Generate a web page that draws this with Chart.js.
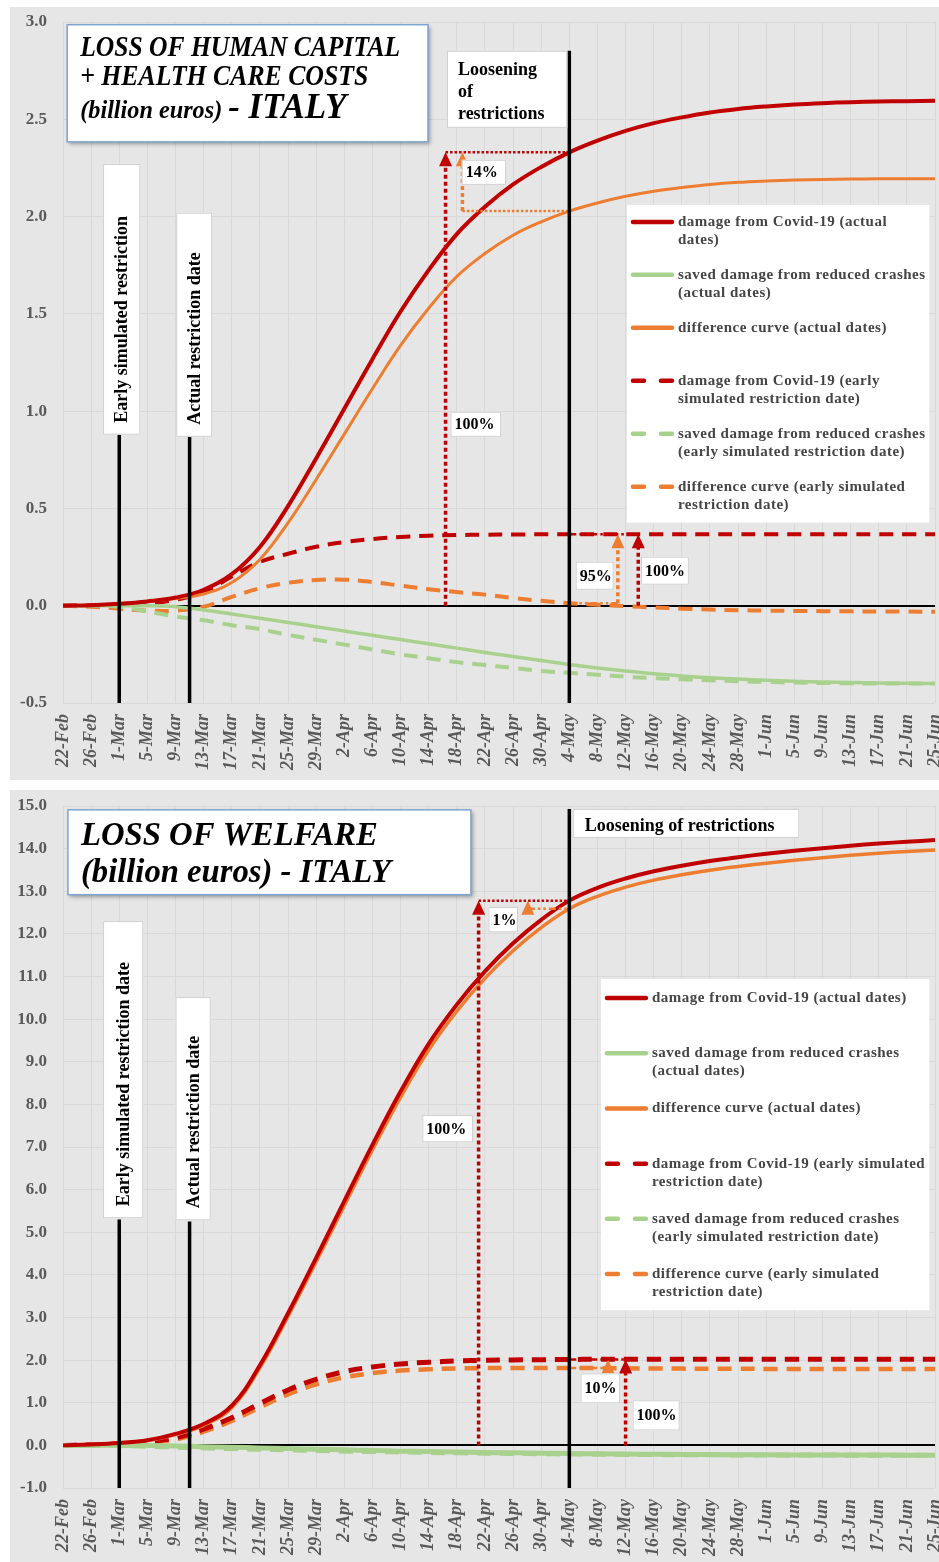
<!DOCTYPE html>
<html>
<head>
<meta charset="utf-8">
<script src="https://cdn.jsdelivr.net/npm/chart.js@4.4.0/dist/chart.umd.min.js"></script>
<style>
  body { margin: 0; background: #fff; width: 939px; height: 1562px; position: relative; overflow: hidden; }
  canvas { position: absolute; }
</style>
</head>
<body>
<canvas id="hc" width="929" height="773" style="left:10px;top:7px"></canvas>
<canvas id="wf" width="929" height="772" style="left:10px;top:790px"></canvas>
<script>
// x axis: one category every 4 days (2020)
const dates = ['22-Feb','26-Feb','1-Mar','5-Mar','9-Mar','13-Mar','17-Mar','21-Mar','25-Mar','29-Mar',
  '2-Apr','6-Apr','10-Apr','14-Apr','18-Apr','22-Apr','26-Apr','30-Apr','4-May','8-May','12-May',
  '16-May','20-May','24-May','28-May','1-Jun','5-Jun','9-Jun','13-Jun','17-Jun','21-Jun','25-Jun'];
const stepDays = 4;
const earlyDay = 8;       // 1-Mar
const actualDay = 18;     // 11-Mar
const looseningDay = 72;  // 4-May
const iLoose = looseningDay / stepDays;

const seriesNames = [
  'damage from Covid-19 (actual dates)',
  'saved damage from reduced crashes (actual dates)',
  'difference curve (actual dates)',
  'damage from Covid-19 (early simulated restriction date)',
  'saved damage from reduced crashes (early simulated restriction date)',
  'difference curve (early simulated restriction date)'
];

// top chart: loss of human capital + health care costs (billion euros)
const hcTicks = { min: -0.5, max: 3.0, step: 0.5 };
const hcRedActual = [0, 0.003, 0.01, 0.022, 0.042, 0.082, 0.162, 0.302, 0.512, 0.757,
  1.012, 1.267, 1.512, 1.725, 1.91, 2.05, 2.165, 2.255, 2.33, 2.39,
  2.44, 2.48, 2.51, 2.535, 2.553, 2.566, 2.576, 2.583, 2.588, 2.591, 2.593, 2.595];
const hcGreenActual = [0, 0, 0, 0, -0.005, -0.022, -0.043, -0.064, -0.086, -0.108,
  -0.13, -0.152, -0.174, -0.196, -0.218, -0.24, -0.261, -0.282, -0.302, -0.32,
  -0.336, -0.35, -0.361, -0.37, -0.377, -0.383, -0.388, -0.392, -0.395, -0.397, -0.399, -0.4];
const hcOrangeActual = [0, 0.003, 0.01, 0.022, 0.037, 0.06, 0.119, 0.238, 0.426, 0.649,
  0.882, 1.115, 1.338, 1.529, 1.692, 1.81, 1.904, 1.973, 2.028, 2.07,
  2.104, 2.13, 2.149, 2.165, 2.176, 2.183, 2.188, 2.191, 2.193, 2.194, 2.194, 2.195];
const hcRedEarly = [0, 0.002, 0.006, 0.012, 0.03, 0.07, 0.15, 0.225, 0.267, 0.303,
  0.327, 0.343, 0.353, 0.36, 0.363, 0.365, 0.366, 0.367, 0.367, 0.367,
  0.367, 0.367, 0.367, 0.367, 0.367, 0.367, 0.367, 0.367, 0.367, 0.367, 0.367, 0.367];
const hcGreenEarly = [0, 0, -0.005, -0.03, -0.055, -0.075, -0.1, -0.12, -0.15, -0.175,
  -0.2, -0.225, -0.25, -0.27, -0.29, -0.305, -0.32, -0.335, -0.345, -0.355,
  -0.365, -0.372, -0.378, -0.383, -0.388, -0.392, -0.395, -0.397, -0.399, -0.4, -0.4, -0.4];
const hcOrangeEarly = [0, -0.005, -0.015, -0.025, -0.025, -0.005, 0.045, 0.09, 0.118, 0.132,
  0.134, 0.122, 0.103, 0.085, 0.07, 0.057, 0.04, 0.025, 0.013, 0.005,
  -0.002, -0.009, -0.015, -0.02, -0.023, -0.025, -0.027, -0.028, -0.029, -0.03, -0.03, -0.031];

// bottom chart: loss of welfare (billion euros)
const wfTicks = { min: -1, max: 15, step: 1 };
const wfRedActual = [0, 0.02, 0.055, 0.12, 0.27, 0.5, 0.93, 1.88, 3.1, 4.4,
  5.73, 7.05, 8.3, 9.42, 10.34, 11.12, 11.78, 12.33, 12.78, 13.08,
  13.3, 13.47, 13.6, 13.71, 13.8, 13.88, 13.95, 14.01, 14.07, 14.12, 14.16, 14.2];
const wfGreenActual = [0, 0, 0, -0.005, -0.015, -0.03, -0.045, -0.06, -0.075, -0.09,
  -0.105, -0.12, -0.135, -0.145, -0.155, -0.165, -0.175, -0.183, -0.19, -0.198,
  -0.204, -0.209, -0.213, -0.217, -0.22, -0.222, -0.224, -0.226, -0.227, -0.228, -0.229, -0.23];
const wfOrangeActual = [0, 0.02, 0.055, 0.115, 0.255, 0.47, 0.885, 1.82, 3.025, 4.31,
  5.625, 6.93, 8.165, 9.275, 10.185, 10.955, 11.605, 12.147, 12.59, 12.882,
  13.096, 13.261, 13.387, 13.493, 13.58, 13.658, 13.726, 13.784, 13.843, 13.892, 13.931, 13.97];
const wfRedEarly = [0, 0.01, 0.035, 0.08, 0.18, 0.38, 0.65, 0.98, 1.3, 1.55,
  1.73, 1.84, 1.91, 1.95, 1.98, 1.995, 2.005, 2.01, 2.015, 2.02,
  2.02, 2.02, 2.02, 2.02, 2.02, 2.02, 2.02, 2.02, 2.02, 2.02, 2.02, 2.02];
const wfGreenEarly = [0, 0, -0.005, -0.02, -0.04, -0.06, -0.075, -0.09, -0.105, -0.12,
  -0.135, -0.145, -0.155, -0.165, -0.175, -0.182, -0.19, -0.196, -0.202, -0.208,
  -0.212, -0.216, -0.219, -0.222, -0.224, -0.226, -0.227, -0.228, -0.229, -0.23, -0.23, -0.23];
const wfOrangeEarly = [0, 0.01, 0.03, 0.06, 0.14, 0.32, 0.575, 0.89, 1.195, 1.43,
  1.595, 1.695, 1.755, 1.785, 1.805, 1.813, 1.815, 1.814, 1.813, 1.812,
  1.808, 1.804, 1.801, 1.798, 1.796, 1.794, 1.793, 1.792, 1.791, 1.79, 1.79, 1.79];

const RED = '#c00000', GREEN = '#a9d18e', ORANGE = '#ed7d31';
const serif = '"Liberation Serif", "Times New Roman", serif';

function makeDatasets(series, widths) {
  const colors = [RED, GREEN, ORANGE];
  return series.map((vals, i) => ({
    label: seriesNames[i],
    data: vals,
    borderColor: colors[i % 3],
    borderWidth: widths[i],
    borderDash: i >= 3 ? [14, 9] : [],
    pointRadius: 0,
    fill: false,
    tension: 0.4
  }));
}

function whiteBox(c, x0, y0, x1, y1, stroke) {
  c.fillStyle = '#fff';
  c.fillRect(x0, y0, x1 - x0, y1 - y0);
  c.strokeStyle = stroke || '#d0d0d0';
  c.lineWidth = 1;
  c.setLineDash([]);
  c.strokeRect(x0 + 0.5, y0 + 0.5, x1 - x0 - 1, y1 - y0 - 1);
}

function arrowUp(c, x, yFrom, yTo, color) {
  c.strokeStyle = color; c.fillStyle = color;
  c.lineWidth = 3.5; c.setLineDash([4, 3]);
  c.beginPath(); c.moveTo(x, yFrom); c.lineTo(x, yTo + 12); c.stroke();
  c.setLineDash([]);
  c.beginPath(); c.moveTo(x, yTo); c.lineTo(x - 6.5, yTo + 14); c.lineTo(x + 6.5, yTo + 14); c.closePath(); c.fill();
}

function hLink(c, x0, x1, y, color, dash) {
  c.strokeStyle = color; c.lineWidth = 2.5; c.setLineDash(dash);
  c.beginPath(); c.moveTo(x0, y); c.lineTo(x1, y); c.stroke();
}

const overlay = {
  id: 'overlay',
  beforeDraw(chart) {
    const c = chart.ctx;
    c.save(); c.fillStyle = '#e7e6e6'; c.fillRect(0, 0, chart.width, chart.height); c.restore();
  },
  afterDatasetsDraw(chart, args, n) {
    const c = chart.ctx, area = chart.chartArea;
    const X = d => chart.scales.x.getPixelForValue(d / stepDays);
    const Y = v => chart.scales.y.getPixelForValue(v);
    c.save();

    // dotted arrows and connectors
    n.arrows.forEach(a => arrowUp(c, X(a.day), Y(a.from), Y(a.to), a.color));
    n.links.forEach(l => hLink(c, X(l.day0), X(l.day1), Y(l.v), l.color, l.dash));

    // vertical event lines
    c.strokeStyle = '#000'; c.lineWidth = 3.5; c.setLineDash([]);
    n.events.forEach(e => {
      c.beginPath(); c.moveTo(X(e.day), Y(e.top)); c.lineTo(X(e.day), area.bottom); c.stroke();
    });

    // rotated event labels
    n.vlabels.forEach(b => {
      const x0 = X(b.d0), x1 = X(b.d1), y0 = Y(b.v0), y1 = Y(b.v1);
      whiteBox(c, x0, y0, x1, y1);
      c.save();
      c.translate((x0 + x1) / 2 + 1, y1 - 12);
      c.rotate(-Math.PI / 2);
      c.fillStyle = '#000'; c.font = 'bold 18px ' + serif;
      c.textAlign = 'left'; c.textBaseline = 'middle';
      c.fillText(b.text, 0, 0);
      c.restore();
    });

    // loosening label
    const L = n.loosen;
    whiteBox(c, X(L.d0), Y(L.v0), X(L.d1), Y(L.v1));
    c.fillStyle = '#000'; c.font = 'bold 18px ' + serif; c.textAlign = 'left'; c.textBaseline = 'alphabetic';
    L.lines.forEach((t, i) => c.fillText(t, X(L.d0) + L.dx, Y(L.v0) + L.dy + i * 22));

    // percent labels
    n.pct.forEach(p => {
      const x0 = X(p.d0), x1 = X(p.d1), y0 = Y(p.v0), y1 = Y(p.v1);
      whiteBox(c, x0, y0, x1, y1);
      c.fillStyle = '#000'; c.font = 'bold 16px ' + serif; c.textAlign = 'left'; c.textBaseline = 'middle';
      c.fillText(p.text, x0 + 4, (y0 + y1) / 2 + 1);
    });

    // title box
    const T = n.title;
    const tx0 = X(T.d0), ty0 = Y(T.v0), tx1 = X(T.d1), ty1 = Y(T.v1);
    c.save();
    c.shadowColor = 'rgba(0,0,0,0.35)'; c.shadowBlur = 4; c.shadowOffsetX = 2; c.shadowOffsetY = 2;
    c.fillStyle = '#fff'; c.fillRect(tx0, ty0, tx1 - tx0, ty1 - ty0);
    c.restore();
    c.strokeStyle = '#7ea6d3'; c.lineWidth = 1.5; c.setLineDash([]);
    c.strokeRect(tx0, ty0, tx1 - tx0, ty1 - ty0);
    c.fillStyle = '#000'; c.textAlign = 'left'; c.textBaseline = 'alphabetic';
    T.lines.forEach(line => {
      let x = tx0 + T.dx;
      line.segs.forEach(([text, size, w]) => {
        c.font = 'italic bold ' + size + 'px ' + serif;
        c.fillText(text, x, ty0 + line.dy, w);
        x += Math.min(w, c.measureText(text).width) + 6;
      });
    });

    // legend
    const G = n.legend;
    const gx0 = X(G.d0), gy0 = Y(G.v0), gx1 = X(G.d1), gy1 = Y(G.v1);
    c.fillStyle = '#fff'; c.fillRect(gx0, gy0, gx1 - gx0, gy1 - gy0);
    const rowH = (gy1 - gy0) / 6;
    c.font = 'bold 15px ' + serif; c.textBaseline = 'middle';
    c.letterSpacing = '0.5px';
    chart.data.datasets.forEach((ds, i) => {
      const y = gy0 + G.first + i * rowH;
      c.strokeStyle = ds.borderColor; c.lineWidth = 4.5; c.lineCap = 'round';
      c.beginPath();
      if (i >= 3) {
        c.moveTo(gx0 + 6, y); c.lineTo(gx0 + 17, y);
        c.moveTo(gx0 + 34, y); c.lineTo(gx0 + 45, y);
      } else {
        c.moveTo(gx0 + 6, y); c.lineTo(gx0 + 45, y);
      }
      c.stroke();
      c.fillStyle = '#454545';
      G.lines[i].forEach((t, k) => c.fillText(t, gx0 + 51, y + k * 18));
    });
    c.letterSpacing = '0px';
    c.restore();
  }
};

function makeChart(id, series, widths, ticks, xHeight, topPad, notes) {
  return new Chart(document.getElementById(id), {
    type: 'line',
    data: { labels: dates, datasets: makeDatasets(series, widths) },
    plugins: [overlay],
    options: {
      responsive: false,
      animation: false,
      devicePixelRatio: 1,
      layout: { padding: { top: topPad, right: 4, left: 0, bottom: 0 } },
      plugins: { legend: { display: false }, tooltip: { enabled: false }, overlay: notes },
      scales: {
        x: {
          type: 'category',
          offset: false,
          border: { display: false },
          grid: { color: '#d9d9d9', lineWidth: 1, drawTicks: false },
          ticks: {
            autoSkip: false, minRotation: 90, maxRotation: 90, padding: 11,
            color: '#595959',
            font: { family: serif, size: 18, weight: 'bold', style: 'italic' }
          },
          afterFit(s) { s.height = xHeight; s.paddingLeft = 0; s.paddingRight = 0; }
        },
        y: {
          min: ticks.min, max: ticks.max,
          border: { display: false },
          grid: {
            drawTicks: false,
            color: ctx => Math.abs(ctx.tick.value) < 1e-9 ? '#000' : '#d9d9d9',
            lineWidth: ctx => Math.abs(ctx.tick.value) < 1e-9 ? 2 : 1
          },
          ticks: {
            stepSize: ticks.step, padding: 16, color: '#595959',
            font: { family: serif, size: 17, weight: 'bold' },
            callback: v => Number(v).toFixed(1)
          },
          afterFit(s) { s.width = 53; s.paddingTop = 0; s.paddingBottom = 0; }
        }
      }
    }
  });
}

const hcNotes = {
  events: [{ day: earlyDay, top: 0.88 }, { day: actualDay, top: 0.87 }, { day: looseningDay, top: 2.852 }],
  vlabels: [
    { d0: 5.7, d1: 11.0, v0: 2.27, v1: 0.879, text: 'Early simulated restriction' },
    { d0: 16.1, d1: 21.2, v0: 2.02, v1: 0.868, text: 'Actual restriction date' }
  ],
  loosen: { d0: 54.6, d1: 71.7, v0: 2.852, v1: 2.456, dx: 11, dy: 24, lines: ['Loosening', 'of', 'restrictions'] },
  arrows: [
    { day: 54.4, from: 0, to: hcRedActual[iLoose], color: RED },
    { day: 56.8, from: hcOrangeActual[iLoose], to: hcRedActual[iLoose], color: ORANGE },
    { day: 78.9, from: hcOrangeEarly[iLoose], to: hcRedEarly[iLoose], color: ORANGE },
    { day: 81.8, from: 0, to: hcRedEarly[iLoose], color: RED }
  ],
  links: [
    { day0: 54.4, day1: looseningDay, v: hcRedActual[iLoose], color: RED, dash: [2.5, 2] },
    { day0: 56.8, day1: looseningDay, v: hcOrangeActual[iLoose], color: ORANGE, dash: [2.5, 2] },
    { day0: looseningDay, day1: 81.8, v: hcRedEarly[iLoose], color: RED, dash: [7, 3, 2.5, 3, 2.5, 3] },
    { day0: looseningDay, day1: 78.9, v: hcOrangeEarly[iLoose], color: ORANGE, dash: [7, 3, 2.5, 3, 2.5, 3] }
  ],
  pct: [
    { d0: 56.7, d1: 63.0, v0: 2.292, v1: 2.163, text: '14%' },
    { d0: 55.1, d1: 62.3, v0: 0.997, v1: 0.868, text: '100%' },
    { d0: 72.9, d1: 78.3, v0: 0.226, v1: 0.082, text: '95%' },
    { d0: 82.2, d1: 89.0, v0: 0.252, v1: 0.108, text: '100%' }
  ],
  title: {
    d0: 0.6, d1: 51.9, v0: 2.986, v1: 2.384, dx: 13,
    lines: [
      { dy: 31, segs: [['LOSS OF HUMAN CAPITAL', 29, 320]] },
      { dy: 60, segs: [['+ HEALTH CARE COSTS', 29, 288]] },
      { dy: 93, segs: [['(billion euros)', 25, 142], ['- ITALY', 35, 118]] }
    ]
  },
  legend: {
    d0: 80.2, d1: 123.2, v0: 2.06, v1: 0.427, first: 17,
    lines: [
      ['damage from Covid-19 (actual', 'dates)'],
      ['saved damage from reduced crashes', '(actual dates)'],
      ['difference curve (actual dates)'],
      ['damage from Covid-19 (early', 'simulated restriction date)'],
      ['saved damage from reduced crashes', '(early simulated restriction date)'],
      ['difference curve (early simulated', 'restriction date)']
    ]
  }
};

const wfNotes = {
  events: [{ day: earlyDay, top: 5.3 }, { day: actualDay, top: 5.25 }, { day: looseningDay, top: 14.93 }],
  vlabels: [
    { d0: 5.7, d1: 11.4, v0: 12.3, v1: 5.33, text: 'Early simulated restriction date' },
    { d0: 16.0, d1: 21.0, v0: 10.52, v1: 5.28, text: 'Actual restriction date' }
  ],
  loosen: { d0: 72.5, d1: 104.7, v0: 14.93, v1: 14.25, dx: 12, dy: 22, lines: ['Loosening of restrictions'] },
  arrows: [
    { day: 59.1, from: 0, to: wfRedActual[iLoose], color: RED },
    { day: 66.1, from: wfOrangeActual[iLoose], to: wfRedActual[iLoose], color: ORANGE },
    { day: 77.5, from: wfOrangeEarly[iLoose], to: wfRedEarly[iLoose], color: ORANGE },
    { day: 80.0, from: 0, to: wfRedEarly[iLoose], color: RED }
  ],
  links: [
    { day0: 59.1, day1: looseningDay, v: wfRedActual[iLoose], color: RED, dash: [2.5, 2] },
    { day0: 66.1, day1: looseningDay, v: wfOrangeActual[iLoose], color: ORANGE, dash: [7, 3, 2.5, 3, 2.5, 3] },
    { day0: looseningDay, day1: 80.0, v: wfRedEarly[iLoose], color: RED, dash: [7, 3, 2.5, 3, 2.5, 3] },
    { day0: looseningDay, day1: 77.5, v: wfOrangeEarly[iLoose], color: ORANGE, dash: [7, 3, 2.5, 3, 2.5, 3] }
  ],
  pct: [
    { d0: 60.5, d1: 64.7, v0: 12.63, v1: 12.04, text: '1%' },
    { d0: 51.1, d1: 58.3, v0: 7.75, v1: 7.11, text: '100%' },
    { d0: 73.6, d1: 79.2, v0: 1.69, v1: 0.99, text: '10%' },
    { d0: 81.0, d1: 87.7, v0: 1.06, v1: 0.35, text: '100%' }
  ],
  title: {
    d0: 0.7, d1: 58.0, v0: 14.91, v1: 12.92, dx: 13,
    lines: [
      { dy: 35, segs: [['LOSS OF WELFARE', 33, 297]] },
      { dy: 72, segs: [['(billion euros) - ITALY', 33, 310]] }
    ]
  },
  legend: {
    d0: 76.5, d1: 123.2, v0: 10.94, v1: 3.17, first: 19,
    lines: [
      ['damage from Covid-19 (actual dates)'],
      ['saved damage from reduced crashes', '(actual dates)'],
      ['difference curve (actual dates)'],
      ['damage from Covid-19 (early simulated', 'restriction date)'],
      ['saved damage from reduced crashes', '(early simulated restriction date)'],
      ['difference curve (early simulated', 'restriction date)']
    ]
  }
};

makeChart('hc',
  [hcRedActual, hcGreenActual, hcOrangeActual, hcRedEarly, hcGreenEarly, hcOrangeEarly],
  [4, 3.5, 3, 4, 4, 4], hcTicks, 77, 15, hcNotes);
makeChart('wf',
  [wfRedActual, wfGreenActual, wfOrangeActual, wfRedEarly, wfGreenEarly, wfOrangeEarly],
  [4, 5, 3.5, 5, 5, 4.5], wfTicks, 74, 16, wfNotes);
</script>
</body>
</html>
